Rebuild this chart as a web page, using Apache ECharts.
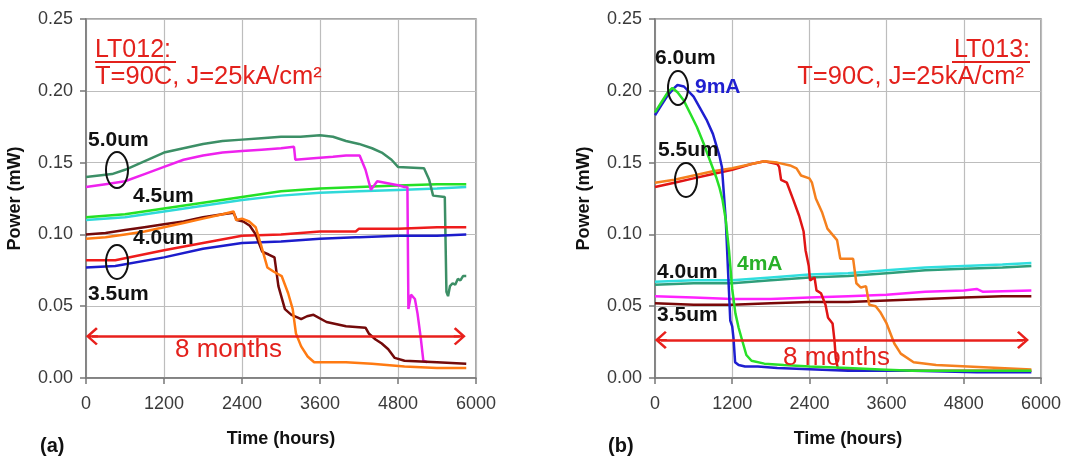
<!DOCTYPE html>
<html>
<head>
<meta charset="utf-8">
<script src="https://cdn.jsdelivr.net/npm/echarts@6/dist/echarts.min.js"></script>
<style>
html,body{margin:0;padding:0;background:#fff;}
#c{width:1083px;height:458px;}
</style>
</head>
<body>
<div id="c"></div>
<script>
// ---------- Tick labels ----------
const xTicks = [0, 1200, 2400, 3600, 4800, 6000];
const yTicks = [0.00, 0.05, 0.10, 0.15, 0.20, 0.25];

// ---------- Panel (a) LT012 ----------
const a50greenT = [0,200,400,600,800,1000,1200,1500,1800,2100,2400,2700,3000,3300,3600,3800,4000,4200,4400,4550,4700,4800,5200,5280,5340,5520,5545,5570,5600,5640,5680,5720,5760,5800,5850];
const a50greenP = [0.140,0.141,0.142,0.145,0.149,0.153,0.157,0.160,0.163,0.165,0.166,0.167,0.168,0.168,0.169,0.168,0.165,0.163,0.160,0.157,0.152,0.147,0.146,0.138,0.127,0.126,0.060,0.057,0.064,0.066,0.065,0.069,0.068,0.071,0.071];

const a50magT = [0,300,600,900,1200,1500,1800,2100,2400,2700,3000,3200,3220,3500,3800,4000,4210,4300,4384,4480,4820,4900,4945,4960,5000,5030,5060,5100,5150,5190,5250];
const a50magP = [0.133,0.135,0.137,0.142,0.147,0.152,0.155,0.157,0.158,0.159,0.160,0.161,0.152,0.153,0.154,0.155,0.155,0.145,0.131,0.137,0.134,0.133,0.133,0.048,0.058,0.059,0.055,0.045,0.028,0.012,0.011];

const a45T = [0,600,1200,1800,2400,3000,3600,4200,4800,5400,5850];
const a45cyanP  = [0.110,0.112,0.116,0.120,0.124,0.127,0.129,0.130,0.131,0.132,0.133];
const a45greenP = [0.112,0.114,0.118,0.122,0.126,0.130,0.132,0.133,0.134,0.135,0.135];

const a40maroonT = [0,300,600,900,1200,1500,1800,2100,2270,2320,2420,2520,2610,2710,2810,2900,2960,3060,3160,3260,3310,3400,3500,3700,4000,4300,4350,4450,4550,4650,4750,4900,5400,5850];
const a40maroonP = [0.100,0.101,0.103,0.105,0.107,0.109,0.112,0.114,0.115,0.110,0.109,0.106,0.100,0.088,0.086,0.084,0.064,0.048,0.044,0.042,0.041,0.043,0.044,0.039,0.036,0.035,0.031,0.027,0.024,0.020,0.014,0.012,0.011,0.010];

const a40orangeT = [0,300,600,900,1200,1500,1800,2100,2270,2310,2400,2510,2610,2690,2790,2890,3010,3110,3180,3230,3310,3410,3510,4000,4400,4900,5400,5850];
const a40orangeP = [0.097,0.098,0.100,0.102,0.105,0.108,0.111,0.114,0.116,0.110,0.111,0.109,0.105,0.093,0.077,0.074,0.071,0.059,0.048,0.031,0.022,0.015,0.011,0.011,0.010,0.008,0.007,0.007];

const a35T = [0,450,1200,1800,2400,3000,3600,4150,4200,4800,5400,5850];
const a35redP  = [0.082,0.082,0.089,0.094,0.099,0.100,0.102,0.102,0.104,0.104,0.105,0.105];
const a35blueP = [0.077,0.078,0.084,0.090,0.094,0.095,0.097,0.098,0.098,0.099,0.099,0.100];

// ---------- Panel (b) LT013 ----------
const b60blueT = [0,100,200,300,350,450,600,700,800,900,1000,1040,1100,1140,1170,1200,1220,1245,1300,1400,1600,1900,2500,3000,4000,5000,5850];
const b60blueP = [0.183,0.190,0.197,0.202,0.204,0.203,0.196,0.188,0.180,0.170,0.155,0.147,0.110,0.070,0.040,0.036,0.028,0.011,0.009,0.008,0.008,0.007,0.006,0.005,0.005,0.004,0.004];

const b60greenT = [0,100,200,270,350,450,550,650,750,850,950,1000,1050,1100,1150,1200,1250,1300,1350,1420,1500,1700,2000,2400,3000,3500,4000,5000,5850];
const b60greenP = [0.185,0.192,0.199,0.202,0.199,0.193,0.184,0.175,0.164,0.152,0.140,0.133,0.124,0.110,0.089,0.062,0.045,0.035,0.027,0.016,0.012,0.010,0.009,0.008,0.007,0.006,0.005,0.005,0.005];

const b55redT = [0,300,600,900,1200,1500,1700,1900,1930,1960,2050,2150,2240,2310,2340,2390,2410,2480,2510,2580,2650,2690,2760,2790,2810,2840,2900,3500,4500,5850];
const b55redP = [0.133,0.136,0.139,0.142,0.145,0.149,0.151,0.149,0.147,0.138,0.136,0.124,0.113,0.102,0.089,0.078,0.068,0.070,0.061,0.059,0.051,0.042,0.038,0.026,0.014,0.007,0.006,0.005,0.005,0.005];

const b55orangeT = [0,300,600,900,1200,1500,1700,1900,2100,2200,2270,2400,2440,2500,2600,2680,2830,2880,3080,3130,3200,3280,3330,3430,3500,3600,3720,3820,4020,4370,4860,5850];
const b55orangeP = [0.136,0.138,0.141,0.144,0.146,0.149,0.151,0.150,0.148,0.146,0.141,0.139,0.136,0.125,0.115,0.104,0.096,0.083,0.083,0.066,0.063,0.064,0.051,0.050,0.046,0.038,0.024,0.017,0.011,0.009,0.008,0.006];

const b40T = [0,600,1200,1800,2400,3000,3600,4200,4800,5400,5850];
const b40cyanP = [0.067,0.068,0.068,0.070,0.072,0.073,0.075,0.077,0.078,0.079,0.080];
const b40tealP = [0.065,0.066,0.066,0.068,0.070,0.071,0.073,0.075,0.076,0.077,0.078];

const b35magT = [0,600,1200,1800,2400,3000,3600,4200,4800,5000,5100,5850];
const b35magP = [0.057,0.056,0.055,0.055,0.056,0.057,0.058,0.060,0.061,0.062,0.060,0.061];
const b35maroonT = [0,600,1200,1800,2400,3000,3600,4200,4800,5400,5850];
const b35maroonP = [0.052,0.051,0.051,0.052,0.053,0.053,0.054,0.055,0.056,0.057,0.057];

// "8 months" double arrow: time span and level for each panel
const arrowSpanA = [90, 5750];
const arrowSpanB = [90, 5720];
const arrowLevelA = 0.029;
const arrowLevelB = 0.0265;

function zip(t, p) { return t.map((v, i) => [v, p[i]]); }

const FONT = '"Liberation Sans", Arial, sans-serif';
// open chevron arrow head (pointing up, apex at top, with a short shaft to the centre)
const CHEVRON = 'path://M0,0 L11,11 L9,13 L1.3,5.3 L1.3,13 L-1.3,13 L-1.3,5.3 L-9,13 L-11,11 Z';

function line(name, t, p, color, gi, z) {
  return {
    type: 'line', name: name, data: zip(t, p),
    xAxisIndex: gi, yAxisIndex: gi, symbol: 'none',
    lineStyle: { color: color, width: 2.5 }, z: z || 2, animation: false
  };
}

function arrowSeries(gi, span, level) {
  return {
    type: 'line', data: [], xAxisIndex: gi, yAxisIndex: gi, symbol: 'none', z: 5,
    markLine: {
      silent: true, animation: false,
      symbol: [CHEVRON, CHEVRON], symbolSize: [18, 12],
      lineStyle: { color: '#e8201c', width: 2.5, type: 'solid' },
      label: { show: false },
      data: [[{ coord: [span[0], level] }, { coord: [span[1], level] }]]
    }
  };
}

function xAxisDef(gi) {
  return {
    type: 'value', gridIndex: gi, min: xTicks[0], max: xTicks[xTicks.length - 1], interval: 1200,
    name: 'Time (hours)', nameLocation: 'middle', nameGap: 52,
    nameTextStyle: { fontFamily: FONT, fontWeight: 'bold', fontSize: 18, color: '#111' },
    axisLine: { show: true, lineStyle: { color: '#777', width: 1.5 } },
    axisTick: { show: true, length: 6, lineStyle: { color: '#777', width: 1.5 } },
    axisLabel: { fontFamily: FONT, fontSize: 18, color: '#3a3a3a', margin: 17, formatter: v => String(v) },
    splitLine: { show: true, lineStyle: { color: '#bdbdbd', width: 1.2 } }
  };
}
function yAxisDef(gi) {
  return {
    type: 'value', gridIndex: gi, min: yTicks[0], max: yTicks[yTicks.length - 1], interval: 0.05,
    name: 'Power (mW)', nameLocation: 'middle', nameGap: 62,
    nameTextStyle: { fontFamily: FONT, fontWeight: 'bold', fontSize: 18, color: '#111' },
    axisLine: { show: true, lineStyle: { color: '#777', width: 1.5 } },
    axisTick: { show: true, length: 6, lineStyle: { color: '#777', width: 1.5 } },
    axisLabel: { fontFamily: FONT, fontSize: 18, color: '#3a3a3a', margin: 13, formatter: v => v.toFixed(2) },
    splitLine: { show: true, lineStyle: { color: '#bdbdbd', width: 1.2 } }
  };
}

function txt(x, y, s, size, color, weight, align) {
  return { type: 'text', x: x, y: y, z: 100,
    style: { text: s, fontFamily: FONT, fontSize: size, fill: color, fontWeight: weight || 'normal',
      textAlign: align || 'left', textVerticalAlign: 'middle' } };
}
function ell(cx, cy, rx, ry) {
  return { type: 'ellipse', z: 100, shape: { cx: cx, cy: cy, rx: rx, ry: ry },
    style: { fill: null, stroke: '#111', lineWidth: 2 } };
}
function hline(x1, x2, y, color) {
  return { type: 'line', z: 100, shape: { x1: x1, y1: y, x2: x2, y2: y }, style: { stroke: color, lineWidth: 2 } };
}

const RED = '#e3211c';

const chart = echarts.init(document.getElementById('c'), null, { renderer: 'canvas' });
chart.setOption({
  backgroundColor: '#fff',
  animation: false,
  grid: [
    { left: 86, top: 19, width: 390, height: 359, show: true, borderColor: '#8a8a8a', borderWidth: 1.5 },
    { left: 655, top: 19, width: 386, height: 359, show: true, borderColor: '#8a8a8a', borderWidth: 1.5 }
  ],
  xAxis: [xAxisDef(0), xAxisDef(1)],
  yAxis: [yAxisDef(0), yAxisDef(1)],
  series: [
    line('4.5um cyan', a45T, a45cyanP, '#2fd9d9', 0),
    line('4.5um green', a45T, a45greenP, '#25e025', 0),
    line('5.0um green', a50greenT, a50greenP, '#3c8f66', 0),
    line('5.0um magenta', a50magT, a50magP, '#ee22ee', 0),
    line('3.5um blue', a35T, a35blueP, '#1c1ccc', 0),
    line('3.5um red', a35T, a35redP, '#ee1c1c', 0),
    line('4.0um maroon', a40maroonT, a40maroonP, '#730a0a', 0),
    line('4.0um orange', a40orangeT, a40orangeP, '#ff7a12', 0),
    arrowSeries(0, arrowSpanA, arrowLevelA),

    line('3.5um maroon', b35maroonT, b35maroonP, '#7a0808', 1),
    line('3.5um magenta', b35magT, b35magP, '#ff22ff', 1),
    line('4.0um teal', b40T, b40tealP, '#2e9e7a', 1),
    line('4.0um cyan', b40T, b40cyanP, '#30dede', 1),
    line('5.5um red', b55redT, b55redP, '#e01515', 1),
    line('5.5um orange', b55orangeT, b55orangeP, '#f5801e', 1),
    line('6.0um blue 9mA', b60blueT, b60blueP, '#1f1fd0', 1),
    line('6.0um green 4mA', b60greenT, b60greenP, '#28e028', 1),
    arrowSeries(1, arrowSpanB, arrowLevelB)
  ],
  graphic: [
    // panel (a)
    txt(95, 50, 'LT012:', 25, RED, 'normal'),
    hline(95, 176, 62, RED),
    txt(95, 77, 'T=90C, J=25kA/cm²', 25.5, RED, 'normal'),
    txt(88, 140, '5.0um', 21, '#111', 'bold'),
    ell(117, 170, 11, 18),
    txt(133, 196, '4.5um', 21, '#111', 'bold'),
    txt(133, 238, '4.0um', 21, '#111', 'bold'),
    ell(117, 262, 11, 17),
    txt(88, 294, '3.5um', 21, '#111', 'bold'),
    txt(175, 350, '8 months', 26, RED, 'normal'),
    txt(40, 446, '(a)', 20, '#111', 'bold'),
    // panel (b)
    txt(1030, 50, 'LT013:', 25, RED, 'normal', 'right'),
    hline(952, 1030, 62, RED),
    txt(1024, 77, 'T=90C, J=25kA/cm²', 25.5, RED, 'normal', 'right'),
    txt(655, 58, '6.0um', 21, '#111', 'bold'),
    ell(678, 88, 10, 17),
    txt(695, 87, '9mA', 21, '#1f1fd0', 'bold'),
    txt(658, 150, '5.5um', 21, '#111', 'bold'),
    ell(686, 180, 11, 17),
    txt(657, 272, '4.0um', 21, '#111', 'bold'),
    txt(737, 264, '4mA', 21, '#28b028', 'bold'),
    txt(657, 315, '3.5um', 21, '#111', 'bold'),
    txt(783, 358, '8 months', 26, RED, 'normal'),
    txt(608, 446, '(b)', 20, '#111', 'bold')
  ]
});
</script>
</body>
</html>
